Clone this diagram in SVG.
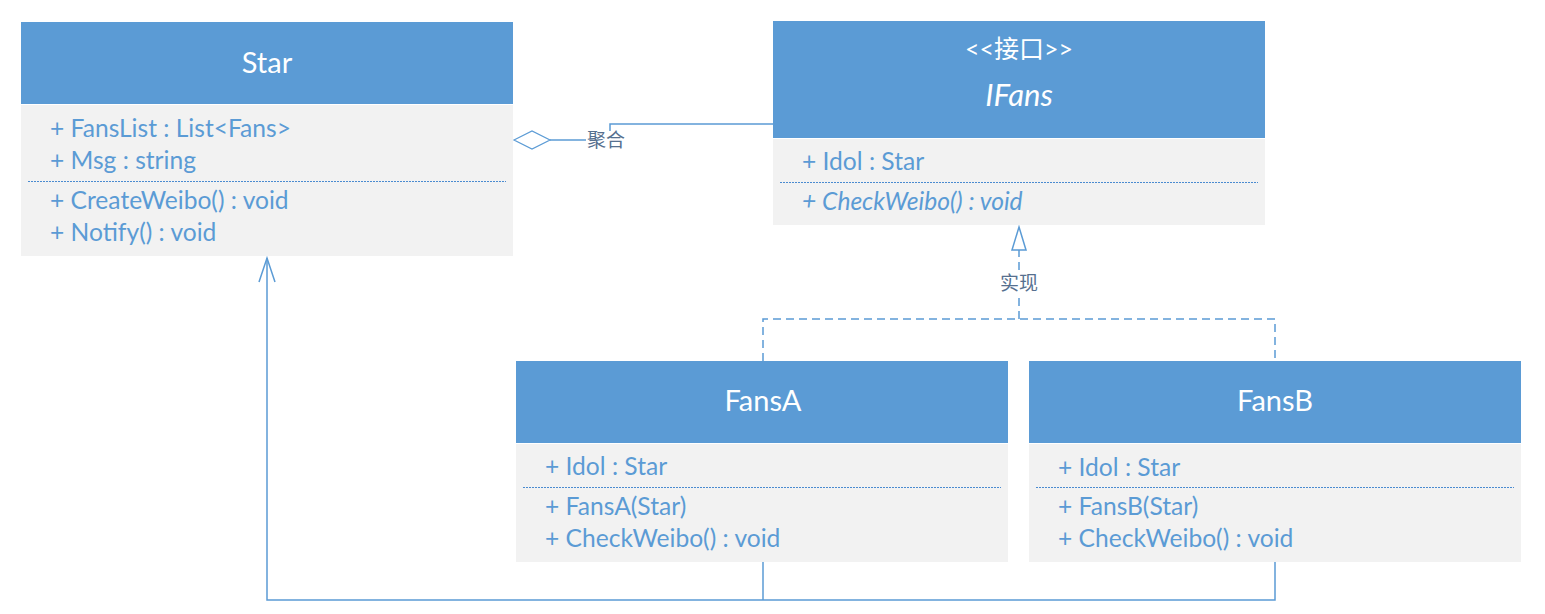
<svg xmlns="http://www.w3.org/2000/svg" width="1545" height="614" viewBox="0 0 1545 614">
<style>
.hd{fill:#5B9BD5}
.bd{fill:#F2F2F2}
.ttl{font-family:Lato,"Noto Sans CJK SC",sans-serif;font-size:29px;fill:#fff;text-anchor:middle}
.mem{font-family:Lato,"Noto Sans CJK SC",sans-serif;font-size:24.6px;fill:#5B9BD5}
.sep{stroke:#4A8BD0;stroke-width:1.2;stroke-dasharray:2 1}
.ln{stroke:#5B9BD5;stroke-width:1.5;fill:none}
.lbl{font-family:"Noto Sans CJK SC",sans-serif;font-size:19px;fill:#56708F;text-anchor:middle}
</style>
<rect width="1545" height="614" fill="#fff"/>
<g id="connectors">
  <polygon points="514,140 532,131 550,140 532,149" fill="#fff" stroke="#5B9BD5" stroke-width="1.2"/>
  <line class="ln" x1="550" y1="140" x2="586" y2="140"/>
  <polyline class="ln" points="610,131 610,124 773,124"/>
  <text class="lbl" x="606" y="147">聚合</text>
  <polyline class="ln" points="763,361 763,319 1275,319 1275,361" stroke-dasharray="8 5"/>
  <line class="ln" x1="1019" y1="319" x2="1019" y2="296" stroke-dasharray="8 5"/>
  <line class="ln" x1="1019" y1="270" x2="1019" y2="250" stroke-dasharray="8 5"/>
  <polygon points="1019,227 1026,250 1012,250" fill="#fff" stroke="#5B9BD5" stroke-width="1.5"/>
  <text class="lbl" x="1019" y="290">实现</text>
  <polyline class="ln" points="763,562 763,600"/>
  <polyline class="ln" points="1275,562 1275,600 267,600 267,258"/>
  <polyline class="ln" points="259,282 267,258 275,282"/>
</g>
<g id="Star">
  <rect class="hd" x="21" y="22" width="492" height="82"/>
  <rect class="bd" x="21" y="105" width="492" height="151"/>
  <text class="ttl" x="267" y="73">Star</text>
  <text class="mem" x="50" y="137">+ FansList : List&lt;Fans&gt;</text>
  <text class="mem" x="50" y="169">+ Msg : string</text>
  <line class="sep" x1="28" y1="181.5" x2="506" y2="181.5"/>
  <text class="mem" x="50" y="209">+ CreateWeibo() : void</text>
  <text class="mem" x="50" y="241">+ Notify() : void</text>
</g>
<g id="IFans">
  <rect class="hd" x="773" y="21" width="492" height="117"/>
  <rect class="bd" x="773" y="139" width="492" height="86"/>
  <text class="ttl" x="1019" y="58" style="font-size:25px">&lt;&lt;接口&gt;&gt;</text>
  <text class="ttl" x="1019" y="106" font-style="italic" style="font-size:31px">IFans</text>
  <text class="mem" x="802" y="170">+ Idol : Star</text>
  <line class="sep" x1="780" y1="182.5" x2="1258" y2="182.5"/>
  <text class="mem" x="802" y="210" font-style="italic">+ CheckWeibo() : void</text>
</g>
<g id="FansA">
  <rect class="hd" x="516" y="361" width="492" height="82"/>
  <rect class="bd" x="516" y="444" width="492" height="118"/>
  <text class="ttl" x="763" y="411">FansA</text>
  <text class="mem" x="545" y="475">+ Idol : Star</text>
  <line class="sep" x1="523" y1="487.5" x2="1001" y2="487.5"/>
  <text class="mem" x="545" y="515">+ FansA(Star)</text>
  <text class="mem" x="545" y="547">+ CheckWeibo() : void</text>
</g>
<g id="FansB">
  <rect class="hd" x="1029" y="361" width="492" height="82"/>
  <rect class="bd" x="1029" y="444" width="492" height="118"/>
  <text class="ttl" x="1275" y="411">FansB</text>
  <text class="mem" x="1058" y="476">+ Idol : Star</text>
  <line class="sep" x1="1036" y1="487.5" x2="1514" y2="487.5"/>
  <text class="mem" x="1058" y="515">+ FansB(Star)</text>
  <text class="mem" x="1058" y="547">+ CheckWeibo() : void</text>
</g>
</svg>
